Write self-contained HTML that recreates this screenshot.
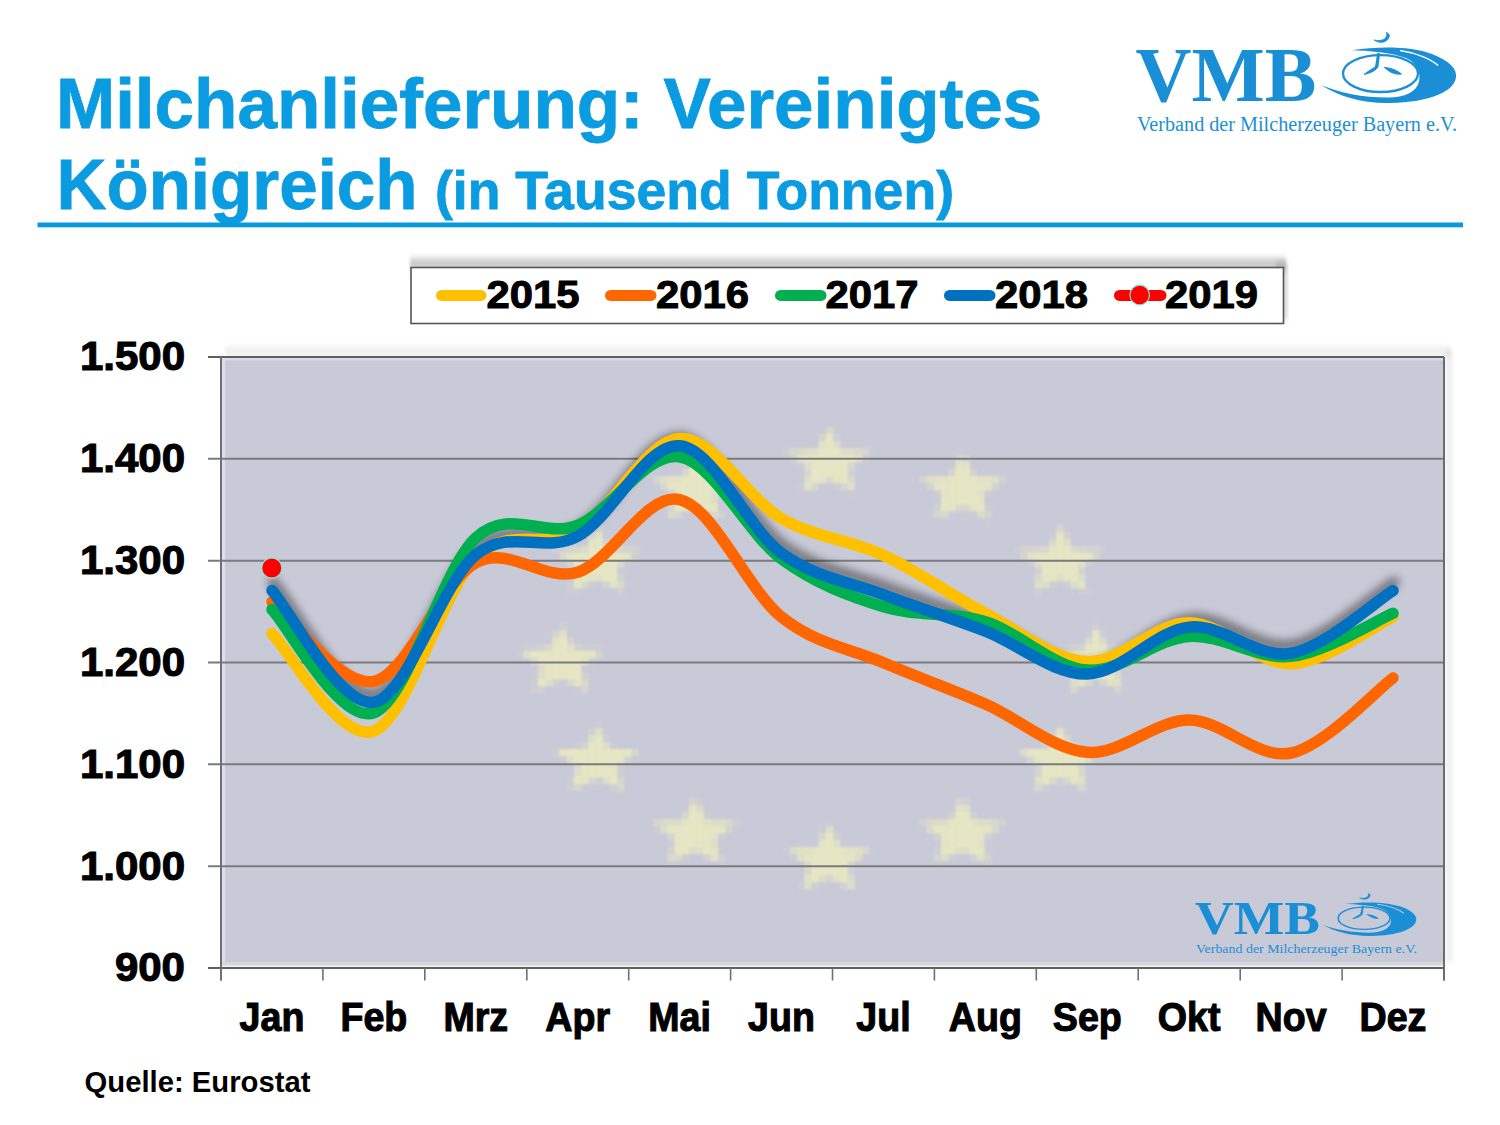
<!DOCTYPE html>
<html><head><meta charset="utf-8"><style>
html,body{margin:0;padding:0;background:#fff;}
body{width:1500px;height:1125px;overflow:hidden;position:relative;font-family:"Liberation Sans",sans-serif;}
svg{position:absolute;left:0;top:0;}
</style></head><body>
<svg width="1500" height="1125" viewBox="0 0 1500 1125">
<defs>
<filter id="sh" x="-5%" y="-30%" width="110%" height="160%"><feGaussianBlur stdDeviation="4"/><feOffset dx="1" dy="-8"/></filter>
<filter id="boxsh" x="-5%" y="-100%" width="110%" height="300%"><feGaussianBlur stdDeviation="1.5 3"/></filter>
<filter id="starblur"><feGaussianBlur stdDeviation="0.9"/></filter>
</defs>
<g font-family="'Liberation Sans'" font-weight="bold" fill="#0a9be0" stroke="#0a9be0" stroke-width="0.8">
<text x="56" y="128" font-size="71">Milchanlieferung: Vereinigtes</text>
<text x="56.5" y="209" font-size="71" textLength="361" lengthAdjust="spacingAndGlyphs">Königreich</text>
<text x="435" y="209" font-size="53" textLength="519" lengthAdjust="spacingAndGlyphs">(in Tausend Tonnen)</text>
</g>
<rect x="37.5" y="222.5" width="1425.5" height="4.8" fill="#0898de"/>
<g transform="translate(0,0) scale(1,1)">
<text x="1135.5" y="100.5" font-family="'Liberation Serif'" font-weight="bold" font-size="78" fill="#1b8fd6" textLength="181" lengthAdjust="spacingAndGlyphs">VMB</text>
<text x="1137" y="130.5" font-family="'Liberation Serif'" font-size="20.5" fill="#1b8fd6" textLength="320" lengthAdjust="spacingAndGlyphs">Verband der Milcherzeuger Bayern e.V.</text>
<path d="M1352,50.2 C1380,46 1412,46.5 1432,54 C1450,61 1457,69 1456,77 C1455,91 1430,102.5 1390,103 C1362,103.5 1338,96 1321,85 C1340,93 1362,97.5 1388,97.5 C1405,97.5 1416,92 1419,82 C1421,72 1417,63 1406,58 C1392,52.5 1368,50.5 1352,50.2 Z" fill="#1b8fd6"/>
<ellipse cx="1380.5" cy="73.6" rx="37.5" ry="18.4" fill="none" stroke="#1b8fd6" stroke-width="2.3"/>
<path d="M1400,50.5 C1418,53 1432,60 1438,65.5" fill="none" stroke="#fff" stroke-width="1.6"/>
<path d="M1379.5,53.5 C1379,58 1378.5,63 1378,66.5 C1376,70.5 1372,72.5 1364,74.5 C1368,71 1372,69.5 1375.5,66.5 C1376.5,62 1377,57 1377.5,53.5 Z" fill="#1b8fd6" stroke="#1b8fd6" stroke-width="1"/>
<path d="M1385,67.5 C1391,68 1397,70.5 1401,74 C1395,74.5 1389,71.5 1385,67.5 Z" fill="#1b8fd6" stroke="#1b8fd6" stroke-width="1.2"/>
<path d="M1374,40 C1380,44 1388,43 1389.5,35.5 C1389,34 1388,33 1386.5,32.5 C1388,38 1383,42 1374,40 Z" fill="#1b8fd6" stroke="#1b8fd6" stroke-width="0.8"/>
</g>
<rect x="410" y="258" width="876" height="14" fill="#000" opacity="0.2" filter="url(#boxsh)"/>
<rect x="1276" y="262" width="12" height="58" fill="#000" opacity="0.12" filter="url(#boxsh)"/>
<rect x="411" y="267.5" width="872.5" height="56" fill="#fff" stroke="#555" stroke-width="1.6"/>
<g stroke-width="11" stroke-linecap="round">
<line x1="441.5" y1="295.4" x2="481" y2="295.4" stroke="#ffc000"/>
<line x1="610.5" y1="295.4" x2="651" y2="295.4" stroke="#ff6600"/>
<line x1="780.5" y1="295.4" x2="821" y2="295.4" stroke="#00b050"/>
<line x1="949.5" y1="295.4" x2="990" y2="295.4" stroke="#0070c0"/>
<line x1="1119.5" y1="295.4" x2="1161" y2="295.4" stroke="#ff0000"/>
</g>
<circle cx="1139.7" cy="295" r="9.8" fill="#ff0000" stroke="#7fe0d0" stroke-width="1.2"/>
<g font-family="'Liberation Sans'" font-weight="bold" font-size="39.5" fill="#000" stroke="#000" stroke-width="1">
<text x="486.5" y="308.3" textLength="93" lengthAdjust="spacingAndGlyphs">2015</text>
<text x="656" y="308.3" textLength="93" lengthAdjust="spacingAndGlyphs">2016</text>
<text x="825.5" y="308.3" textLength="93" lengthAdjust="spacingAndGlyphs">2017</text>
<text x="995" y="308.3" textLength="93" lengthAdjust="spacingAndGlyphs">2018</text>
<text x="1165" y="308.3" textLength="93" lengthAdjust="spacingAndGlyphs">2019</text>
</g>
<rect x="225" y="347" width="1226" height="9" fill="#000" opacity="0.065" filter="url(#boxsh)"/>
<rect x="1445" y="350" width="8" height="612" fill="#000" opacity="0.05" filter="url(#boxsh)"/>
<rect x="221" y="357" width="1223" height="611" fill="#c9cad7"/>
<rect x="222" y="358" width="3" height="607" fill="#e0e0f0" opacity="0.9"/>
<rect x="222" y="962" width="1221" height="3.5" fill="#d8d8e2" opacity="0.8"/><rect x="222" y="965.5" width="1221" height="1.6" fill="#f4f4f6"/>
<rect x="222" y="358" width="1221" height="2.5" fill="#dedeee" opacity="0.8"/>
<g fill="#e6e6c4" filter="url(#starblur)"><rect x="825.8" y="427.0" width="7.5" height="7.3" fill-opacity="0.50"/><rect x="818.6" y="434.0" width="7.5" height="7.3" fill-opacity="0.33"/><rect x="825.8" y="434.0" width="7.5" height="7.3" fill-opacity="1.00"/><rect x="833.0" y="434.0" width="7.5" height="7.3" fill-opacity="0.17"/><rect x="818.6" y="441.0" width="7.5" height="7.3" fill-opacity="0.83"/><rect x="825.8" y="441.0" width="7.5" height="7.3" fill-opacity="1.00"/><rect x="833.0" y="441.0" width="7.5" height="7.3" fill-opacity="0.67"/><rect x="782.6" y="448.0" width="7.5" height="7.3" fill-opacity="0.11"/><rect x="789.8" y="448.0" width="7.5" height="7.3" fill-opacity="0.50"/><rect x="797.0" y="448.0" width="7.5" height="7.3" fill-opacity="0.58"/><rect x="804.2" y="448.0" width="7.5" height="7.3" fill-opacity="0.67"/><rect x="811.4" y="448.0" width="7.5" height="7.3" fill-opacity="0.72"/><rect x="818.6" y="448.0" width="7.5" height="7.3" fill-opacity="1.00"/><rect x="825.8" y="448.0" width="7.5" height="7.3" fill-opacity="1.00"/><rect x="833.0" y="448.0" width="7.5" height="7.3" fill-opacity="1.00"/><rect x="840.2" y="448.0" width="7.5" height="7.3" fill-opacity="0.67"/><rect x="847.4" y="448.0" width="7.5" height="7.3" fill-opacity="0.67"/><rect x="854.6" y="448.0" width="7.5" height="7.3" fill-opacity="0.53"/><rect x="861.8" y="448.0" width="7.5" height="7.3" fill-opacity="0.47"/><rect x="869.0" y="448.0" width="7.5" height="7.3" fill-opacity="0.03"/><rect x="789.8" y="455.0" width="7.5" height="7.3" fill-opacity="0.28"/><rect x="797.0" y="455.0" width="7.5" height="7.3" fill-opacity="0.92"/><rect x="804.2" y="455.0" width="7.5" height="7.3" fill-opacity="1.00"/><rect x="811.4" y="455.0" width="7.5" height="7.3" fill-opacity="1.00"/><rect x="818.6" y="455.0" width="7.5" height="7.3" fill-opacity="1.00"/><rect x="825.8" y="455.0" width="7.5" height="7.3" fill-opacity="1.00"/><rect x="833.0" y="455.0" width="7.5" height="7.3" fill-opacity="1.00"/><rect x="840.2" y="455.0" width="7.5" height="7.3" fill-opacity="1.00"/><rect x="847.4" y="455.0" width="7.5" height="7.3" fill-opacity="1.00"/><rect x="854.6" y="455.0" width="7.5" height="7.3" fill-opacity="0.81"/><rect x="861.8" y="455.0" width="7.5" height="7.3" fill-opacity="0.14"/><rect x="797.0" y="462.0" width="7.5" height="7.3" fill-opacity="0.08"/><rect x="804.2" y="462.0" width="7.5" height="7.3" fill-opacity="0.69"/><rect x="811.4" y="462.0" width="7.5" height="7.3" fill-opacity="1.00"/><rect x="818.6" y="462.0" width="7.5" height="7.3" fill-opacity="1.00"/><rect x="825.8" y="462.0" width="7.5" height="7.3" fill-opacity="1.00"/><rect x="833.0" y="462.0" width="7.5" height="7.3" fill-opacity="1.00"/><rect x="840.2" y="462.0" width="7.5" height="7.3" fill-opacity="1.00"/><rect x="847.4" y="462.0" width="7.5" height="7.3" fill-opacity="0.53"/><rect x="854.6" y="462.0" width="7.5" height="7.3" fill-opacity="0.03"/><rect x="804.2" y="469.0" width="7.5" height="7.3" fill-opacity="0.44"/><rect x="811.4" y="469.0" width="7.5" height="7.3" fill-opacity="1.00"/><rect x="818.6" y="469.0" width="7.5" height="7.3" fill-opacity="1.00"/><rect x="825.8" y="469.0" width="7.5" height="7.3" fill-opacity="1.00"/><rect x="833.0" y="469.0" width="7.5" height="7.3" fill-opacity="1.00"/><rect x="840.2" y="469.0" width="7.5" height="7.3" fill-opacity="1.00"/><rect x="847.4" y="469.0" width="7.5" height="7.3" fill-opacity="0.25"/><rect x="804.2" y="476.0" width="7.5" height="7.3" fill-opacity="0.75"/><rect x="811.4" y="476.0" width="7.5" height="7.3" fill-opacity="1.00"/><rect x="818.6" y="476.0" width="7.5" height="7.3" fill-opacity="0.89"/><rect x="825.8" y="476.0" width="7.5" height="7.3" fill-opacity="0.58"/><rect x="833.0" y="476.0" width="7.5" height="7.3" fill-opacity="0.94"/><rect x="840.2" y="476.0" width="7.5" height="7.3" fill-opacity="1.00"/><rect x="847.4" y="476.0" width="7.5" height="7.3" fill-opacity="0.53"/><rect x="797.0" y="483.0" width="7.5" height="7.3" fill-opacity="0.06"/><rect x="804.2" y="483.0" width="7.5" height="7.3" fill-opacity="0.86"/><rect x="811.4" y="483.0" width="7.5" height="7.3" fill-opacity="0.42"/><rect x="818.6" y="483.0" width="7.5" height="7.3" fill-opacity="0.03"/><rect x="833.0" y="483.0" width="7.5" height="7.3" fill-opacity="0.06"/><rect x="840.2" y="483.0" width="7.5" height="7.3" fill-opacity="0.50"/><rect x="847.4" y="483.0" width="7.5" height="7.3" fill-opacity="0.75"/><rect x="797.0" y="490.0" width="7.5" height="7.3" fill-opacity="0.03"/><rect x="804.2" y="490.0" width="7.5" height="7.3" fill-opacity="0.03"/><rect x="847.4" y="490.0" width="7.5" height="7.3" fill-opacity="0.06"/><rect x="955.4" y="448.0" width="7.5" height="7.3" fill-opacity="0.03"/><rect x="955.4" y="455.0" width="7.5" height="7.3" fill-opacity="0.42"/><rect x="962.6" y="455.0" width="7.5" height="7.3" fill-opacity="0.33"/><rect x="948.2" y="462.0" width="7.5" height="7.3" fill-opacity="0.03"/><rect x="955.4" y="462.0" width="7.5" height="7.3" fill-opacity="0.89"/><rect x="962.6" y="462.0" width="7.5" height="7.3" fill-opacity="0.83"/><rect x="948.2" y="469.0" width="7.5" height="7.3" fill-opacity="0.42"/><rect x="955.4" y="469.0" width="7.5" height="7.3" fill-opacity="1.00"/><rect x="962.6" y="469.0" width="7.5" height="7.3" fill-opacity="1.00"/><rect x="969.8" y="469.0" width="7.5" height="7.3" fill-opacity="0.33"/><rect x="919.4" y="476.0" width="7.5" height="7.3" fill-opacity="0.33"/><rect x="926.6" y="476.0" width="7.5" height="7.3" fill-opacity="0.72"/><rect x="933.8" y="476.0" width="7.5" height="7.3" fill-opacity="0.83"/><rect x="941.0" y="476.0" width="7.5" height="7.3" fill-opacity="0.83"/><rect x="948.2" y="476.0" width="7.5" height="7.3" fill-opacity="0.97"/><rect x="955.4" y="476.0" width="7.5" height="7.3" fill-opacity="1.00"/><rect x="962.6" y="476.0" width="7.5" height="7.3" fill-opacity="1.00"/><rect x="969.8" y="476.0" width="7.5" height="7.3" fill-opacity="0.94"/><rect x="977.0" y="476.0" width="7.5" height="7.3" fill-opacity="0.83"/><rect x="984.2" y="476.0" width="7.5" height="7.3" fill-opacity="0.83"/><rect x="991.4" y="476.0" width="7.5" height="7.3" fill-opacity="0.69"/><rect x="998.6" y="476.0" width="7.5" height="7.3" fill-opacity="0.28"/><rect x="926.6" y="483.0" width="7.5" height="7.3" fill-opacity="0.36"/><rect x="933.8" y="483.0" width="7.5" height="7.3" fill-opacity="0.94"/><rect x="941.0" y="483.0" width="7.5" height="7.3" fill-opacity="1.00"/><rect x="948.2" y="483.0" width="7.5" height="7.3" fill-opacity="1.00"/><rect x="955.4" y="483.0" width="7.5" height="7.3" fill-opacity="1.00"/><rect x="962.6" y="483.0" width="7.5" height="7.3" fill-opacity="1.00"/><rect x="969.8" y="483.0" width="7.5" height="7.3" fill-opacity="1.00"/><rect x="977.0" y="483.0" width="7.5" height="7.3" fill-opacity="1.00"/><rect x="984.2" y="483.0" width="7.5" height="7.3" fill-opacity="0.92"/><rect x="991.4" y="483.0" width="7.5" height="7.3" fill-opacity="0.33"/><rect x="933.8" y="490.0" width="7.5" height="7.3" fill-opacity="0.14"/><rect x="941.0" y="490.0" width="7.5" height="7.3" fill-opacity="0.89"/><rect x="948.2" y="490.0" width="7.5" height="7.3" fill-opacity="1.00"/><rect x="955.4" y="490.0" width="7.5" height="7.3" fill-opacity="1.00"/><rect x="962.6" y="490.0" width="7.5" height="7.3" fill-opacity="1.00"/><rect x="969.8" y="490.0" width="7.5" height="7.3" fill-opacity="1.00"/><rect x="977.0" y="490.0" width="7.5" height="7.3" fill-opacity="0.83"/><rect x="984.2" y="490.0" width="7.5" height="7.3" fill-opacity="0.11"/><rect x="941.0" y="497.0" width="7.5" height="7.3" fill-opacity="0.92"/><rect x="948.2" y="497.0" width="7.5" height="7.3" fill-opacity="1.00"/><rect x="955.4" y="497.0" width="7.5" height="7.3" fill-opacity="1.00"/><rect x="962.6" y="497.0" width="7.5" height="7.3" fill-opacity="1.00"/><rect x="969.8" y="497.0" width="7.5" height="7.3" fill-opacity="1.00"/><rect x="977.0" y="497.0" width="7.5" height="7.3" fill-opacity="0.86"/><rect x="933.8" y="504.0" width="7.5" height="7.3" fill-opacity="0.22"/><rect x="941.0" y="504.0" width="7.5" height="7.3" fill-opacity="1.00"/><rect x="948.2" y="504.0" width="7.5" height="7.3" fill-opacity="0.94"/><rect x="955.4" y="504.0" width="7.5" height="7.3" fill-opacity="0.50"/><rect x="962.6" y="504.0" width="7.5" height="7.3" fill-opacity="0.50"/><rect x="969.8" y="504.0" width="7.5" height="7.3" fill-opacity="0.94"/><rect x="977.0" y="504.0" width="7.5" height="7.3" fill-opacity="1.00"/><rect x="984.2" y="504.0" width="7.5" height="7.3" fill-opacity="0.14"/><rect x="933.8" y="511.0" width="7.5" height="7.3" fill-opacity="0.44"/><rect x="941.0" y="511.0" width="7.5" height="7.3" fill-opacity="0.50"/><rect x="948.2" y="511.0" width="7.5" height="7.3" fill-opacity="0.06"/><rect x="969.8" y="511.0" width="7.5" height="7.3" fill-opacity="0.06"/><rect x="977.0" y="511.0" width="7.5" height="7.3" fill-opacity="0.58"/><rect x="984.2" y="511.0" width="7.5" height="7.3" fill-opacity="0.39"/><rect x="984.2" y="518.0" width="7.5" height="7.3" fill-opacity="0.03"/><rect x="1056.2" y="525.0" width="7.5" height="7.3" fill-opacity="0.36"/><rect x="1049.0" y="532.0" width="7.5" height="7.3" fill-opacity="0.11"/><rect x="1056.2" y="532.0" width="7.5" height="7.3" fill-opacity="0.97"/><rect x="1063.4" y="532.0" width="7.5" height="7.3" fill-opacity="0.25"/><rect x="1049.0" y="539.0" width="7.5" height="7.3" fill-opacity="0.58"/><rect x="1056.2" y="539.0" width="7.5" height="7.3" fill-opacity="1.00"/><rect x="1063.4" y="539.0" width="7.5" height="7.3" fill-opacity="0.75"/><rect x="1013.0" y="546.0" width="7.5" height="7.3" fill-opacity="0.08"/><rect x="1020.2" y="546.0" width="7.5" height="7.3" fill-opacity="0.33"/><rect x="1027.4" y="546.0" width="7.5" height="7.3" fill-opacity="0.33"/><rect x="1034.6" y="546.0" width="7.5" height="7.3" fill-opacity="0.47"/><rect x="1041.8" y="546.0" width="7.5" height="7.3" fill-opacity="0.50"/><rect x="1049.0" y="546.0" width="7.5" height="7.3" fill-opacity="0.97"/><rect x="1056.2" y="546.0" width="7.5" height="7.3" fill-opacity="1.00"/><rect x="1063.4" y="546.0" width="7.5" height="7.3" fill-opacity="1.00"/><rect x="1070.6" y="546.0" width="7.5" height="7.3" fill-opacity="0.56"/><rect x="1077.8" y="546.0" width="7.5" height="7.3" fill-opacity="0.50"/><rect x="1085.0" y="546.0" width="7.5" height="7.3" fill-opacity="0.33"/><rect x="1092.2" y="546.0" width="7.5" height="7.3" fill-opacity="0.33"/><rect x="1099.4" y="546.0" width="7.5" height="7.3" fill-opacity="0.11"/><rect x="1020.2" y="553.0" width="7.5" height="7.3" fill-opacity="0.33"/><rect x="1027.4" y="553.0" width="7.5" height="7.3" fill-opacity="0.94"/><rect x="1034.6" y="553.0" width="7.5" height="7.3" fill-opacity="1.00"/><rect x="1041.8" y="553.0" width="7.5" height="7.3" fill-opacity="1.00"/><rect x="1049.0" y="553.0" width="7.5" height="7.3" fill-opacity="1.00"/><rect x="1056.2" y="553.0" width="7.5" height="7.3" fill-opacity="1.00"/><rect x="1063.4" y="553.0" width="7.5" height="7.3" fill-opacity="1.00"/><rect x="1070.6" y="553.0" width="7.5" height="7.3" fill-opacity="1.00"/><rect x="1077.8" y="553.0" width="7.5" height="7.3" fill-opacity="1.00"/><rect x="1085.0" y="553.0" width="7.5" height="7.3" fill-opacity="0.97"/><rect x="1092.2" y="553.0" width="7.5" height="7.3" fill-opacity="0.44"/><rect x="1027.4" y="560.0" width="7.5" height="7.3" fill-opacity="0.11"/><rect x="1034.6" y="560.0" width="7.5" height="7.3" fill-opacity="0.78"/><rect x="1041.8" y="560.0" width="7.5" height="7.3" fill-opacity="1.00"/><rect x="1049.0" y="560.0" width="7.5" height="7.3" fill-opacity="1.00"/><rect x="1056.2" y="560.0" width="7.5" height="7.3" fill-opacity="1.00"/><rect x="1063.4" y="560.0" width="7.5" height="7.3" fill-opacity="1.00"/><rect x="1070.6" y="560.0" width="7.5" height="7.3" fill-opacity="1.00"/><rect x="1077.8" y="560.0" width="7.5" height="7.3" fill-opacity="0.81"/><rect x="1085.0" y="560.0" width="7.5" height="7.3" fill-opacity="0.19"/><rect x="1034.6" y="567.0" width="7.5" height="7.3" fill-opacity="0.22"/><rect x="1041.8" y="567.0" width="7.5" height="7.3" fill-opacity="1.00"/><rect x="1049.0" y="567.0" width="7.5" height="7.3" fill-opacity="1.00"/><rect x="1056.2" y="567.0" width="7.5" height="7.3" fill-opacity="1.00"/><rect x="1063.4" y="567.0" width="7.5" height="7.3" fill-opacity="1.00"/><rect x="1070.6" y="567.0" width="7.5" height="7.3" fill-opacity="1.00"/><rect x="1077.8" y="567.0" width="7.5" height="7.3" fill-opacity="0.36"/><rect x="1034.6" y="574.0" width="7.5" height="7.3" fill-opacity="0.50"/><rect x="1041.8" y="574.0" width="7.5" height="7.3" fill-opacity="1.00"/><rect x="1049.0" y="574.0" width="7.5" height="7.3" fill-opacity="1.00"/><rect x="1056.2" y="574.0" width="7.5" height="7.3" fill-opacity="0.75"/><rect x="1063.4" y="574.0" width="7.5" height="7.3" fill-opacity="0.97"/><rect x="1070.6" y="574.0" width="7.5" height="7.3" fill-opacity="1.00"/><rect x="1077.8" y="574.0" width="7.5" height="7.3" fill-opacity="0.64"/><rect x="1034.6" y="581.0" width="7.5" height="7.3" fill-opacity="0.78"/><rect x="1041.8" y="581.0" width="7.5" height="7.3" fill-opacity="0.67"/><rect x="1049.0" y="581.0" width="7.5" height="7.3" fill-opacity="0.17"/><rect x="1063.4" y="581.0" width="7.5" height="7.3" fill-opacity="0.17"/><rect x="1070.6" y="581.0" width="7.5" height="7.3" fill-opacity="0.67"/><rect x="1077.8" y="581.0" width="7.5" height="7.3" fill-opacity="0.92"/><rect x="1034.6" y="588.0" width="7.5" height="7.3" fill-opacity="0.19"/><rect x="1077.8" y="588.0" width="7.5" height="7.3" fill-opacity="0.17"/><rect x="1085.0" y="588.0" width="7.5" height="7.3" fill-opacity="0.08"/><rect x="1092.2" y="623.0" width="7.5" height="7.3" fill-opacity="0.17"/><rect x="1085.0" y="630.0" width="7.5" height="7.3" fill-opacity="0.06"/><rect x="1092.2" y="630.0" width="7.5" height="7.3" fill-opacity="0.92"/><rect x="1099.4" y="630.0" width="7.5" height="7.3" fill-opacity="0.11"/><rect x="1085.0" y="637.0" width="7.5" height="7.3" fill-opacity="0.50"/><rect x="1092.2" y="637.0" width="7.5" height="7.3" fill-opacity="1.00"/><rect x="1099.4" y="637.0" width="7.5" height="7.3" fill-opacity="0.58"/><rect x="1056.2" y="644.0" width="7.5" height="7.3" fill-opacity="0.14"/><rect x="1063.4" y="644.0" width="7.5" height="7.3" fill-opacity="0.17"/><rect x="1070.6" y="644.0" width="7.5" height="7.3" fill-opacity="0.22"/><rect x="1077.8" y="644.0" width="7.5" height="7.3" fill-opacity="0.33"/><rect x="1085.0" y="644.0" width="7.5" height="7.3" fill-opacity="0.94"/><rect x="1092.2" y="644.0" width="7.5" height="7.3" fill-opacity="1.00"/><rect x="1099.4" y="644.0" width="7.5" height="7.3" fill-opacity="0.97"/><rect x="1106.6" y="644.0" width="7.5" height="7.3" fill-opacity="0.36"/><rect x="1113.8" y="644.0" width="7.5" height="7.3" fill-opacity="0.25"/><rect x="1121.0" y="644.0" width="7.5" height="7.3" fill-opacity="0.17"/><rect x="1128.2" y="644.0" width="7.5" height="7.3" fill-opacity="0.17"/><rect x="1049.0" y="651.0" width="7.5" height="7.3" fill-opacity="0.03"/><rect x="1056.2" y="651.0" width="7.5" height="7.3" fill-opacity="0.56"/><rect x="1063.4" y="651.0" width="7.5" height="7.3" fill-opacity="1.00"/><rect x="1070.6" y="651.0" width="7.5" height="7.3" fill-opacity="1.00"/><rect x="1077.8" y="651.0" width="7.5" height="7.3" fill-opacity="1.00"/><rect x="1085.0" y="651.0" width="7.5" height="7.3" fill-opacity="1.00"/><rect x="1092.2" y="651.0" width="7.5" height="7.3" fill-opacity="1.00"/><rect x="1099.4" y="651.0" width="7.5" height="7.3" fill-opacity="1.00"/><rect x="1106.6" y="651.0" width="7.5" height="7.3" fill-opacity="1.00"/><rect x="1113.8" y="651.0" width="7.5" height="7.3" fill-opacity="1.00"/><rect x="1121.0" y="651.0" width="7.5" height="7.3" fill-opacity="1.00"/><rect x="1128.2" y="651.0" width="7.5" height="7.3" fill-opacity="0.61"/><rect x="1135.4" y="651.0" width="7.5" height="7.3" fill-opacity="0.03"/><rect x="1063.4" y="658.0" width="7.5" height="7.3" fill-opacity="0.28"/><rect x="1070.6" y="658.0" width="7.5" height="7.3" fill-opacity="0.89"/><rect x="1077.8" y="658.0" width="7.5" height="7.3" fill-opacity="1.00"/><rect x="1085.0" y="658.0" width="7.5" height="7.3" fill-opacity="1.00"/><rect x="1092.2" y="658.0" width="7.5" height="7.3" fill-opacity="1.00"/><rect x="1099.4" y="658.0" width="7.5" height="7.3" fill-opacity="1.00"/><rect x="1106.6" y="658.0" width="7.5" height="7.3" fill-opacity="1.00"/><rect x="1113.8" y="658.0" width="7.5" height="7.3" fill-opacity="0.92"/><rect x="1121.0" y="658.0" width="7.5" height="7.3" fill-opacity="0.33"/><rect x="1070.6" y="665.0" width="7.5" height="7.3" fill-opacity="0.25"/><rect x="1077.8" y="665.0" width="7.5" height="7.3" fill-opacity="1.00"/><rect x="1085.0" y="665.0" width="7.5" height="7.3" fill-opacity="1.00"/><rect x="1092.2" y="665.0" width="7.5" height="7.3" fill-opacity="1.00"/><rect x="1099.4" y="665.0" width="7.5" height="7.3" fill-opacity="1.00"/><rect x="1106.6" y="665.0" width="7.5" height="7.3" fill-opacity="1.00"/><rect x="1113.8" y="665.0" width="7.5" height="7.3" fill-opacity="0.31"/><rect x="1070.6" y="672.0" width="7.5" height="7.3" fill-opacity="0.47"/><rect x="1077.8" y="672.0" width="7.5" height="7.3" fill-opacity="1.00"/><rect x="1085.0" y="672.0" width="7.5" height="7.3" fill-opacity="1.00"/><rect x="1092.2" y="672.0" width="7.5" height="7.3" fill-opacity="0.94"/><rect x="1099.4" y="672.0" width="7.5" height="7.3" fill-opacity="1.00"/><rect x="1106.6" y="672.0" width="7.5" height="7.3" fill-opacity="1.00"/><rect x="1113.8" y="672.0" width="7.5" height="7.3" fill-opacity="0.56"/><rect x="1070.6" y="679.0" width="7.5" height="7.3" fill-opacity="0.75"/><rect x="1077.8" y="679.0" width="7.5" height="7.3" fill-opacity="0.89"/><rect x="1085.0" y="679.0" width="7.5" height="7.3" fill-opacity="0.42"/><rect x="1099.4" y="679.0" width="7.5" height="7.3" fill-opacity="0.33"/><rect x="1106.6" y="679.0" width="7.5" height="7.3" fill-opacity="0.83"/><rect x="1113.8" y="679.0" width="7.5" height="7.3" fill-opacity="0.83"/><rect x="1070.6" y="686.0" width="7.5" height="7.3" fill-opacity="0.42"/><rect x="1077.8" y="686.0" width="7.5" height="7.3" fill-opacity="0.03"/><rect x="1113.8" y="686.0" width="7.5" height="7.3" fill-opacity="0.33"/><rect x="1121.0" y="686.0" width="7.5" height="7.3" fill-opacity="0.06"/><rect x="1056.2" y="721.0" width="7.5" height="7.3" fill-opacity="0.08"/><rect x="1049.0" y="728.0" width="7.5" height="7.3" fill-opacity="0.03"/><rect x="1056.2" y="728.0" width="7.5" height="7.3" fill-opacity="0.83"/><rect x="1063.4" y="728.0" width="7.5" height="7.3" fill-opacity="0.06"/><rect x="1049.0" y="735.0" width="7.5" height="7.3" fill-opacity="0.42"/><rect x="1056.2" y="735.0" width="7.5" height="7.3" fill-opacity="1.00"/><rect x="1063.4" y="735.0" width="7.5" height="7.3" fill-opacity="0.50"/><rect x="1041.8" y="742.0" width="7.5" height="7.3" fill-opacity="0.17"/><rect x="1049.0" y="742.0" width="7.5" height="7.3" fill-opacity="0.89"/><rect x="1056.2" y="742.0" width="7.5" height="7.3" fill-opacity="1.00"/><rect x="1063.4" y="742.0" width="7.5" height="7.3" fill-opacity="0.94"/><rect x="1070.6" y="742.0" width="7.5" height="7.3" fill-opacity="0.19"/><rect x="1013.0" y="749.0" width="7.5" height="7.3" fill-opacity="0.03"/><rect x="1020.2" y="749.0" width="7.5" height="7.3" fill-opacity="0.64"/><rect x="1027.4" y="749.0" width="7.5" height="7.3" fill-opacity="1.00"/><rect x="1034.6" y="749.0" width="7.5" height="7.3" fill-opacity="1.00"/><rect x="1041.8" y="749.0" width="7.5" height="7.3" fill-opacity="1.00"/><rect x="1049.0" y="749.0" width="7.5" height="7.3" fill-opacity="1.00"/><rect x="1056.2" y="749.0" width="7.5" height="7.3" fill-opacity="1.00"/><rect x="1063.4" y="749.0" width="7.5" height="7.3" fill-opacity="1.00"/><rect x="1070.6" y="749.0" width="7.5" height="7.3" fill-opacity="1.00"/><rect x="1077.8" y="749.0" width="7.5" height="7.3" fill-opacity="1.00"/><rect x="1085.0" y="749.0" width="7.5" height="7.3" fill-opacity="1.00"/><rect x="1092.2" y="749.0" width="7.5" height="7.3" fill-opacity="0.72"/><rect x="1099.4" y="749.0" width="7.5" height="7.3" fill-opacity="0.06"/><rect x="1027.4" y="756.0" width="7.5" height="7.3" fill-opacity="0.44"/><rect x="1034.6" y="756.0" width="7.5" height="7.3" fill-opacity="0.97"/><rect x="1041.8" y="756.0" width="7.5" height="7.3" fill-opacity="1.00"/><rect x="1049.0" y="756.0" width="7.5" height="7.3" fill-opacity="1.00"/><rect x="1056.2" y="756.0" width="7.5" height="7.3" fill-opacity="1.00"/><rect x="1063.4" y="756.0" width="7.5" height="7.3" fill-opacity="1.00"/><rect x="1070.6" y="756.0" width="7.5" height="7.3" fill-opacity="1.00"/><rect x="1077.8" y="756.0" width="7.5" height="7.3" fill-opacity="1.00"/><rect x="1085.0" y="756.0" width="7.5" height="7.3" fill-opacity="0.53"/><rect x="1092.2" y="756.0" width="7.5" height="7.3" fill-opacity="0.03"/><rect x="1034.6" y="763.0" width="7.5" height="7.3" fill-opacity="0.28"/><rect x="1041.8" y="763.0" width="7.5" height="7.3" fill-opacity="1.00"/><rect x="1049.0" y="763.0" width="7.5" height="7.3" fill-opacity="1.00"/><rect x="1056.2" y="763.0" width="7.5" height="7.3" fill-opacity="1.00"/><rect x="1063.4" y="763.0" width="7.5" height="7.3" fill-opacity="1.00"/><rect x="1070.6" y="763.0" width="7.5" height="7.3" fill-opacity="1.00"/><rect x="1077.8" y="763.0" width="7.5" height="7.3" fill-opacity="0.42"/><rect x="1034.6" y="770.0" width="7.5" height="7.3" fill-opacity="0.39"/><rect x="1041.8" y="770.0" width="7.5" height="7.3" fill-opacity="1.00"/><rect x="1049.0" y="770.0" width="7.5" height="7.3" fill-opacity="1.00"/><rect x="1056.2" y="770.0" width="7.5" height="7.3" fill-opacity="1.00"/><rect x="1063.4" y="770.0" width="7.5" height="7.3" fill-opacity="1.00"/><rect x="1070.6" y="770.0" width="7.5" height="7.3" fill-opacity="1.00"/><rect x="1077.8" y="770.0" width="7.5" height="7.3" fill-opacity="0.53"/><rect x="1034.6" y="777.0" width="7.5" height="7.3" fill-opacity="0.69"/><rect x="1041.8" y="777.0" width="7.5" height="7.3" fill-opacity="0.97"/><rect x="1049.0" y="777.0" width="7.5" height="7.3" fill-opacity="0.58"/><rect x="1056.2" y="777.0" width="7.5" height="7.3" fill-opacity="0.17"/><rect x="1063.4" y="777.0" width="7.5" height="7.3" fill-opacity="0.50"/><rect x="1070.6" y="777.0" width="7.5" height="7.3" fill-opacity="0.94"/><rect x="1077.8" y="777.0" width="7.5" height="7.3" fill-opacity="0.81"/><rect x="1034.6" y="784.0" width="7.5" height="7.3" fill-opacity="0.53"/><rect x="1041.8" y="784.0" width="7.5" height="7.3" fill-opacity="0.11"/><rect x="1070.6" y="784.0" width="7.5" height="7.3" fill-opacity="0.06"/><rect x="1077.8" y="784.0" width="7.5" height="7.3" fill-opacity="0.50"/><rect x="1085.0" y="784.0" width="7.5" height="7.3" fill-opacity="0.06"/><rect x="955.4" y="798.0" width="7.5" height="7.3" fill-opacity="0.33"/><rect x="962.6" y="798.0" width="7.5" height="7.3" fill-opacity="0.25"/><rect x="955.4" y="805.0" width="7.5" height="7.3" fill-opacity="0.83"/><rect x="962.6" y="805.0" width="7.5" height="7.3" fill-opacity="0.75"/><rect x="948.2" y="812.0" width="7.5" height="7.3" fill-opacity="0.33"/><rect x="955.4" y="812.0" width="7.5" height="7.3" fill-opacity="1.00"/><rect x="962.6" y="812.0" width="7.5" height="7.3" fill-opacity="1.00"/><rect x="969.8" y="812.0" width="7.5" height="7.3" fill-opacity="0.25"/><rect x="919.4" y="819.0" width="7.5" height="7.3" fill-opacity="0.31"/><rect x="926.6" y="819.0" width="7.5" height="7.3" fill-opacity="0.53"/><rect x="933.8" y="819.0" width="7.5" height="7.3" fill-opacity="0.67"/><rect x="941.0" y="819.0" width="7.5" height="7.3" fill-opacity="0.67"/><rect x="948.2" y="819.0" width="7.5" height="7.3" fill-opacity="0.89"/><rect x="955.4" y="819.0" width="7.5" height="7.3" fill-opacity="1.00"/><rect x="962.6" y="819.0" width="7.5" height="7.3" fill-opacity="1.00"/><rect x="969.8" y="819.0" width="7.5" height="7.3" fill-opacity="0.86"/><rect x="977.0" y="819.0" width="7.5" height="7.3" fill-opacity="0.67"/><rect x="984.2" y="819.0" width="7.5" height="7.3" fill-opacity="0.67"/><rect x="991.4" y="819.0" width="7.5" height="7.3" fill-opacity="0.50"/><rect x="998.6" y="819.0" width="7.5" height="7.3" fill-opacity="0.28"/><rect x="919.4" y="826.0" width="7.5" height="7.3" fill-opacity="0.03"/><rect x="926.6" y="826.0" width="7.5" height="7.3" fill-opacity="0.56"/><rect x="933.8" y="826.0" width="7.5" height="7.3" fill-opacity="1.00"/><rect x="941.0" y="826.0" width="7.5" height="7.3" fill-opacity="1.00"/><rect x="948.2" y="826.0" width="7.5" height="7.3" fill-opacity="1.00"/><rect x="955.4" y="826.0" width="7.5" height="7.3" fill-opacity="1.00"/><rect x="962.6" y="826.0" width="7.5" height="7.3" fill-opacity="1.00"/><rect x="969.8" y="826.0" width="7.5" height="7.3" fill-opacity="1.00"/><rect x="977.0" y="826.0" width="7.5" height="7.3" fill-opacity="1.00"/><rect x="984.2" y="826.0" width="7.5" height="7.3" fill-opacity="1.00"/><rect x="991.4" y="826.0" width="7.5" height="7.3" fill-opacity="0.50"/><rect x="998.6" y="826.0" width="7.5" height="7.3" fill-opacity="0.03"/><rect x="933.8" y="833.0" width="7.5" height="7.3" fill-opacity="0.28"/><rect x="941.0" y="833.0" width="7.5" height="7.3" fill-opacity="0.92"/><rect x="948.2" y="833.0" width="7.5" height="7.3" fill-opacity="1.00"/><rect x="955.4" y="833.0" width="7.5" height="7.3" fill-opacity="1.00"/><rect x="962.6" y="833.0" width="7.5" height="7.3" fill-opacity="1.00"/><rect x="969.8" y="833.0" width="7.5" height="7.3" fill-opacity="1.00"/><rect x="977.0" y="833.0" width="7.5" height="7.3" fill-opacity="0.89"/><rect x="984.2" y="833.0" width="7.5" height="7.3" fill-opacity="0.22"/><rect x="941.0" y="840.0" width="7.5" height="7.3" fill-opacity="0.89"/><rect x="948.2" y="840.0" width="7.5" height="7.3" fill-opacity="1.00"/><rect x="955.4" y="840.0" width="7.5" height="7.3" fill-opacity="1.00"/><rect x="962.6" y="840.0" width="7.5" height="7.3" fill-opacity="1.00"/><rect x="969.8" y="840.0" width="7.5" height="7.3" fill-opacity="1.00"/><rect x="977.0" y="840.0" width="7.5" height="7.3" fill-opacity="0.81"/><rect x="933.8" y="847.0" width="7.5" height="7.3" fill-opacity="0.17"/><rect x="941.0" y="847.0" width="7.5" height="7.3" fill-opacity="1.00"/><rect x="948.2" y="847.0" width="7.5" height="7.3" fill-opacity="1.00"/><rect x="955.4" y="847.0" width="7.5" height="7.3" fill-opacity="0.67"/><rect x="962.6" y="847.0" width="7.5" height="7.3" fill-opacity="0.72"/><rect x="969.8" y="847.0" width="7.5" height="7.3" fill-opacity="1.00"/><rect x="977.0" y="847.0" width="7.5" height="7.3" fill-opacity="1.00"/><rect x="984.2" y="847.0" width="7.5" height="7.3" fill-opacity="0.08"/><rect x="933.8" y="854.0" width="7.5" height="7.3" fill-opacity="0.44"/><rect x="941.0" y="854.0" width="7.5" height="7.3" fill-opacity="0.67"/><rect x="948.2" y="854.0" width="7.5" height="7.3" fill-opacity="0.17"/><rect x="969.8" y="854.0" width="7.5" height="7.3" fill-opacity="0.25"/><rect x="977.0" y="854.0" width="7.5" height="7.3" fill-opacity="0.75"/><rect x="984.2" y="854.0" width="7.5" height="7.3" fill-opacity="0.39"/><rect x="933.8" y="861.0" width="7.5" height="7.3" fill-opacity="0.06"/><rect x="984.2" y="861.0" width="7.5" height="7.3" fill-opacity="0.08"/><rect x="825.8" y="819.0" width="7.5" height="7.3" fill-opacity="0.03"/><rect x="818.6" y="826.0" width="7.5" height="7.3" fill-opacity="0.06"/><rect x="825.8" y="826.0" width="7.5" height="7.3" fill-opacity="0.69"/><rect x="818.6" y="833.0" width="7.5" height="7.3" fill-opacity="0.50"/><rect x="825.8" y="833.0" width="7.5" height="7.3" fill-opacity="1.00"/><rect x="833.0" y="833.0" width="7.5" height="7.3" fill-opacity="0.25"/><rect x="811.4" y="840.0" width="7.5" height="7.3" fill-opacity="0.06"/><rect x="818.6" y="840.0" width="7.5" height="7.3" fill-opacity="0.94"/><rect x="825.8" y="840.0" width="7.5" height="7.3" fill-opacity="1.00"/><rect x="833.0" y="840.0" width="7.5" height="7.3" fill-opacity="0.75"/><rect x="782.6" y="847.0" width="7.5" height="7.3" fill-opacity="0.08"/><rect x="789.8" y="847.0" width="7.5" height="7.3" fill-opacity="0.64"/><rect x="797.0" y="847.0" width="7.5" height="7.3" fill-opacity="0.83"/><rect x="804.2" y="847.0" width="7.5" height="7.3" fill-opacity="0.83"/><rect x="811.4" y="847.0" width="7.5" height="7.3" fill-opacity="0.94"/><rect x="818.6" y="847.0" width="7.5" height="7.3" fill-opacity="1.00"/><rect x="825.8" y="847.0" width="7.5" height="7.3" fill-opacity="1.00"/><rect x="833.0" y="847.0" width="7.5" height="7.3" fill-opacity="1.00"/><rect x="840.2" y="847.0" width="7.5" height="7.3" fill-opacity="0.92"/><rect x="847.4" y="847.0" width="7.5" height="7.3" fill-opacity="0.83"/><rect x="854.6" y="847.0" width="7.5" height="7.3" fill-opacity="0.83"/><rect x="861.8" y="847.0" width="7.5" height="7.3" fill-opacity="0.53"/><rect x="869.0" y="847.0" width="7.5" height="7.3" fill-opacity="0.03"/><rect x="789.8" y="854.0" width="7.5" height="7.3" fill-opacity="0.11"/><rect x="797.0" y="854.0" width="7.5" height="7.3" fill-opacity="0.78"/><rect x="804.2" y="854.0" width="7.5" height="7.3" fill-opacity="1.00"/><rect x="811.4" y="854.0" width="7.5" height="7.3" fill-opacity="1.00"/><rect x="818.6" y="854.0" width="7.5" height="7.3" fill-opacity="1.00"/><rect x="825.8" y="854.0" width="7.5" height="7.3" fill-opacity="1.00"/><rect x="833.0" y="854.0" width="7.5" height="7.3" fill-opacity="1.00"/><rect x="840.2" y="854.0" width="7.5" height="7.3" fill-opacity="1.00"/><rect x="847.4" y="854.0" width="7.5" height="7.3" fill-opacity="1.00"/><rect x="854.6" y="854.0" width="7.5" height="7.3" fill-opacity="0.61"/><rect x="861.8" y="854.0" width="7.5" height="7.3" fill-opacity="0.03"/><rect x="804.2" y="861.0" width="7.5" height="7.3" fill-opacity="0.58"/><rect x="811.4" y="861.0" width="7.5" height="7.3" fill-opacity="1.00"/><rect x="818.6" y="861.0" width="7.5" height="7.3" fill-opacity="1.00"/><rect x="825.8" y="861.0" width="7.5" height="7.3" fill-opacity="1.00"/><rect x="833.0" y="861.0" width="7.5" height="7.3" fill-opacity="1.00"/><rect x="840.2" y="861.0" width="7.5" height="7.3" fill-opacity="1.00"/><rect x="847.4" y="861.0" width="7.5" height="7.3" fill-opacity="0.36"/><rect x="804.2" y="868.0" width="7.5" height="7.3" fill-opacity="0.50"/><rect x="811.4" y="868.0" width="7.5" height="7.3" fill-opacity="1.00"/><rect x="818.6" y="868.0" width="7.5" height="7.3" fill-opacity="1.00"/><rect x="825.8" y="868.0" width="7.5" height="7.3" fill-opacity="1.00"/><rect x="833.0" y="868.0" width="7.5" height="7.3" fill-opacity="1.00"/><rect x="840.2" y="868.0" width="7.5" height="7.3" fill-opacity="1.00"/><rect x="847.4" y="868.0" width="7.5" height="7.3" fill-opacity="0.28"/><rect x="804.2" y="875.0" width="7.5" height="7.3" fill-opacity="0.81"/><rect x="811.4" y="875.0" width="7.5" height="7.3" fill-opacity="1.00"/><rect x="818.6" y="875.0" width="7.5" height="7.3" fill-opacity="0.67"/><rect x="825.8" y="875.0" width="7.5" height="7.3" fill-opacity="0.39"/><rect x="833.0" y="875.0" width="7.5" height="7.3" fill-opacity="0.83"/><rect x="840.2" y="875.0" width="7.5" height="7.3" fill-opacity="1.00"/><rect x="847.4" y="875.0" width="7.5" height="7.3" fill-opacity="0.58"/><rect x="797.0" y="882.0" width="7.5" height="7.3" fill-opacity="0.08"/><rect x="804.2" y="882.0" width="7.5" height="7.3" fill-opacity="0.69"/><rect x="811.4" y="882.0" width="7.5" height="7.3" fill-opacity="0.17"/><rect x="840.2" y="882.0" width="7.5" height="7.3" fill-opacity="0.33"/><rect x="847.4" y="882.0" width="7.5" height="7.3" fill-opacity="0.69"/><rect x="797.0" y="889.0" width="7.5" height="7.3" fill-opacity="0.03"/><rect x="689.0" y="798.0" width="7.5" height="7.3" fill-opacity="0.39"/><rect x="696.2" y="798.0" width="7.5" height="7.3" fill-opacity="0.11"/><rect x="681.8" y="805.0" width="7.5" height="7.3" fill-opacity="0.03"/><rect x="689.0" y="805.0" width="7.5" height="7.3" fill-opacity="0.89"/><rect x="696.2" y="805.0" width="7.5" height="7.3" fill-opacity="0.58"/><rect x="681.8" y="812.0" width="7.5" height="7.3" fill-opacity="0.42"/><rect x="689.0" y="812.0" width="7.5" height="7.3" fill-opacity="1.00"/><rect x="696.2" y="812.0" width="7.5" height="7.3" fill-opacity="0.97"/><rect x="703.4" y="812.0" width="7.5" height="7.3" fill-opacity="0.11"/><rect x="653.0" y="819.0" width="7.5" height="7.3" fill-opacity="0.39"/><rect x="660.2" y="819.0" width="7.5" height="7.3" fill-opacity="0.56"/><rect x="667.4" y="819.0" width="7.5" height="7.3" fill-opacity="0.67"/><rect x="674.6" y="819.0" width="7.5" height="7.3" fill-opacity="0.67"/><rect x="681.8" y="819.0" width="7.5" height="7.3" fill-opacity="0.92"/><rect x="689.0" y="819.0" width="7.5" height="7.3" fill-opacity="1.00"/><rect x="696.2" y="819.0" width="7.5" height="7.3" fill-opacity="1.00"/><rect x="703.4" y="819.0" width="7.5" height="7.3" fill-opacity="0.81"/><rect x="710.6" y="819.0" width="7.5" height="7.3" fill-opacity="0.67"/><rect x="717.8" y="819.0" width="7.5" height="7.3" fill-opacity="0.67"/><rect x="725.0" y="819.0" width="7.5" height="7.3" fill-opacity="0.50"/><rect x="732.2" y="819.0" width="7.5" height="7.3" fill-opacity="0.19"/><rect x="653.0" y="826.0" width="7.5" height="7.3" fill-opacity="0.06"/><rect x="660.2" y="826.0" width="7.5" height="7.3" fill-opacity="0.67"/><rect x="667.4" y="826.0" width="7.5" height="7.3" fill-opacity="1.00"/><rect x="674.6" y="826.0" width="7.5" height="7.3" fill-opacity="1.00"/><rect x="681.8" y="826.0" width="7.5" height="7.3" fill-opacity="1.00"/><rect x="689.0" y="826.0" width="7.5" height="7.3" fill-opacity="1.00"/><rect x="696.2" y="826.0" width="7.5" height="7.3" fill-opacity="1.00"/><rect x="703.4" y="826.0" width="7.5" height="7.3" fill-opacity="1.00"/><rect x="710.6" y="826.0" width="7.5" height="7.3" fill-opacity="1.00"/><rect x="717.8" y="826.0" width="7.5" height="7.3" fill-opacity="0.97"/><rect x="725.0" y="826.0" width="7.5" height="7.3" fill-opacity="0.39"/><rect x="667.4" y="833.0" width="7.5" height="7.3" fill-opacity="0.36"/><rect x="674.6" y="833.0" width="7.5" height="7.3" fill-opacity="0.97"/><rect x="681.8" y="833.0" width="7.5" height="7.3" fill-opacity="1.00"/><rect x="689.0" y="833.0" width="7.5" height="7.3" fill-opacity="1.00"/><rect x="696.2" y="833.0" width="7.5" height="7.3" fill-opacity="1.00"/><rect x="703.4" y="833.0" width="7.5" height="7.3" fill-opacity="1.00"/><rect x="710.6" y="833.0" width="7.5" height="7.3" fill-opacity="0.83"/><rect x="717.8" y="833.0" width="7.5" height="7.3" fill-opacity="0.14"/><rect x="667.4" y="840.0" width="7.5" height="7.3" fill-opacity="0.06"/><rect x="674.6" y="840.0" width="7.5" height="7.3" fill-opacity="0.97"/><rect x="681.8" y="840.0" width="7.5" height="7.3" fill-opacity="1.00"/><rect x="689.0" y="840.0" width="7.5" height="7.3" fill-opacity="1.00"/><rect x="696.2" y="840.0" width="7.5" height="7.3" fill-opacity="1.00"/><rect x="703.4" y="840.0" width="7.5" height="7.3" fill-opacity="1.00"/><rect x="710.6" y="840.0" width="7.5" height="7.3" fill-opacity="0.67"/><rect x="667.4" y="847.0" width="7.5" height="7.3" fill-opacity="0.31"/><rect x="674.6" y="847.0" width="7.5" height="7.3" fill-opacity="1.00"/><rect x="681.8" y="847.0" width="7.5" height="7.3" fill-opacity="0.97"/><rect x="689.0" y="847.0" width="7.5" height="7.3" fill-opacity="0.61"/><rect x="696.2" y="847.0" width="7.5" height="7.3" fill-opacity="0.75"/><rect x="703.4" y="847.0" width="7.5" height="7.3" fill-opacity="1.00"/><rect x="710.6" y="847.0" width="7.5" height="7.3" fill-opacity="0.94"/><rect x="667.4" y="854.0" width="7.5" height="7.3" fill-opacity="0.56"/><rect x="674.6" y="854.0" width="7.5" height="7.3" fill-opacity="0.58"/><rect x="681.8" y="854.0" width="7.5" height="7.3" fill-opacity="0.11"/><rect x="703.4" y="854.0" width="7.5" height="7.3" fill-opacity="0.31"/><rect x="710.6" y="854.0" width="7.5" height="7.3" fill-opacity="0.83"/><rect x="717.8" y="854.0" width="7.5" height="7.3" fill-opacity="0.25"/><rect x="667.4" y="861.0" width="7.5" height="7.3" fill-opacity="0.06"/><rect x="717.8" y="861.0" width="7.5" height="7.3" fill-opacity="0.08"/><rect x="595.4" y="721.0" width="7.5" height="7.3" fill-opacity="0.08"/><rect x="588.2" y="728.0" width="7.5" height="7.3" fill-opacity="0.25"/><rect x="595.4" y="728.0" width="7.5" height="7.3" fill-opacity="0.67"/><rect x="588.2" y="735.0" width="7.5" height="7.3" fill-opacity="0.75"/><rect x="595.4" y="735.0" width="7.5" height="7.3" fill-opacity="1.00"/><rect x="602.6" y="735.0" width="7.5" height="7.3" fill-opacity="0.17"/><rect x="573.8" y="742.0" width="7.5" height="7.3" fill-opacity="0.06"/><rect x="581.0" y="742.0" width="7.5" height="7.3" fill-opacity="0.33"/><rect x="588.2" y="742.0" width="7.5" height="7.3" fill-opacity="1.00"/><rect x="595.4" y="742.0" width="7.5" height="7.3" fill-opacity="1.00"/><rect x="602.6" y="742.0" width="7.5" height="7.3" fill-opacity="0.69"/><rect x="609.8" y="742.0" width="7.5" height="7.3" fill-opacity="0.11"/><rect x="552.2" y="749.0" width="7.5" height="7.3" fill-opacity="0.14"/><rect x="559.4" y="749.0" width="7.5" height="7.3" fill-opacity="0.89"/><rect x="566.6" y="749.0" width="7.5" height="7.3" fill-opacity="1.00"/><rect x="573.8" y="749.0" width="7.5" height="7.3" fill-opacity="1.00"/><rect x="581.0" y="749.0" width="7.5" height="7.3" fill-opacity="1.00"/><rect x="588.2" y="749.0" width="7.5" height="7.3" fill-opacity="1.00"/><rect x="595.4" y="749.0" width="7.5" height="7.3" fill-opacity="1.00"/><rect x="602.6" y="749.0" width="7.5" height="7.3" fill-opacity="1.00"/><rect x="609.8" y="749.0" width="7.5" height="7.3" fill-opacity="1.00"/><rect x="617.0" y="749.0" width="7.5" height="7.3" fill-opacity="1.00"/><rect x="624.2" y="749.0" width="7.5" height="7.3" fill-opacity="1.00"/><rect x="631.4" y="749.0" width="7.5" height="7.3" fill-opacity="0.44"/><rect x="559.4" y="756.0" width="7.5" height="7.3" fill-opacity="0.08"/><rect x="566.6" y="756.0" width="7.5" height="7.3" fill-opacity="0.69"/><rect x="573.8" y="756.0" width="7.5" height="7.3" fill-opacity="1.00"/><rect x="581.0" y="756.0" width="7.5" height="7.3" fill-opacity="1.00"/><rect x="588.2" y="756.0" width="7.5" height="7.3" fill-opacity="1.00"/><rect x="595.4" y="756.0" width="7.5" height="7.3" fill-opacity="1.00"/><rect x="602.6" y="756.0" width="7.5" height="7.3" fill-opacity="1.00"/><rect x="609.8" y="756.0" width="7.5" height="7.3" fill-opacity="1.00"/><rect x="617.0" y="756.0" width="7.5" height="7.3" fill-opacity="0.92"/><rect x="624.2" y="756.0" width="7.5" height="7.3" fill-opacity="0.28"/><rect x="573.8" y="763.0" width="7.5" height="7.3" fill-opacity="0.61"/><rect x="581.0" y="763.0" width="7.5" height="7.3" fill-opacity="1.00"/><rect x="588.2" y="763.0" width="7.5" height="7.3" fill-opacity="1.00"/><rect x="595.4" y="763.0" width="7.5" height="7.3" fill-opacity="1.00"/><rect x="602.6" y="763.0" width="7.5" height="7.3" fill-opacity="1.00"/><rect x="609.8" y="763.0" width="7.5" height="7.3" fill-opacity="0.94"/><rect x="617.0" y="763.0" width="7.5" height="7.3" fill-opacity="0.08"/><rect x="573.8" y="770.0" width="7.5" height="7.3" fill-opacity="0.75"/><rect x="581.0" y="770.0" width="7.5" height="7.3" fill-opacity="1.00"/><rect x="588.2" y="770.0" width="7.5" height="7.3" fill-opacity="1.00"/><rect x="595.4" y="770.0" width="7.5" height="7.3" fill-opacity="1.00"/><rect x="602.6" y="770.0" width="7.5" height="7.3" fill-opacity="1.00"/><rect x="609.8" y="770.0" width="7.5" height="7.3" fill-opacity="1.00"/><rect x="617.0" y="770.0" width="7.5" height="7.3" fill-opacity="0.17"/><rect x="566.6" y="777.0" width="7.5" height="7.3" fill-opacity="0.06"/><rect x="573.8" y="777.0" width="7.5" height="7.3" fill-opacity="0.97"/><rect x="581.0" y="777.0" width="7.5" height="7.3" fill-opacity="0.89"/><rect x="588.2" y="777.0" width="7.5" height="7.3" fill-opacity="0.42"/><rect x="595.4" y="777.0" width="7.5" height="7.3" fill-opacity="0.19"/><rect x="602.6" y="777.0" width="7.5" height="7.3" fill-opacity="0.67"/><rect x="609.8" y="777.0" width="7.5" height="7.3" fill-opacity="1.00"/><rect x="617.0" y="777.0" width="7.5" height="7.3" fill-opacity="0.44"/><rect x="566.6" y="784.0" width="7.5" height="7.3" fill-opacity="0.19"/><rect x="573.8" y="784.0" width="7.5" height="7.3" fill-opacity="0.42"/><rect x="581.0" y="784.0" width="7.5" height="7.3" fill-opacity="0.03"/><rect x="609.8" y="784.0" width="7.5" height="7.3" fill-opacity="0.17"/><rect x="617.0" y="784.0" width="7.5" height="7.3" fill-opacity="0.50"/><rect x="559.4" y="623.0" width="7.5" height="7.3" fill-opacity="0.17"/><rect x="552.2" y="630.0" width="7.5" height="7.3" fill-opacity="0.33"/><rect x="559.4" y="630.0" width="7.5" height="7.3" fill-opacity="0.75"/><rect x="552.2" y="637.0" width="7.5" height="7.3" fill-opacity="0.83"/><rect x="559.4" y="637.0" width="7.5" height="7.3" fill-opacity="1.00"/><rect x="566.6" y="637.0" width="7.5" height="7.3" fill-opacity="0.33"/><rect x="516.2" y="644.0" width="7.5" height="7.3" fill-opacity="0.03"/><rect x="523.4" y="644.0" width="7.5" height="7.3" fill-opacity="0.17"/><rect x="530.6" y="644.0" width="7.5" height="7.3" fill-opacity="0.17"/><rect x="537.8" y="644.0" width="7.5" height="7.3" fill-opacity="0.28"/><rect x="545.0" y="644.0" width="7.5" height="7.3" fill-opacity="0.50"/><rect x="552.2" y="644.0" width="7.5" height="7.3" fill-opacity="1.00"/><rect x="559.4" y="644.0" width="7.5" height="7.3" fill-opacity="1.00"/><rect x="566.6" y="644.0" width="7.5" height="7.3" fill-opacity="0.83"/><rect x="573.8" y="644.0" width="7.5" height="7.3" fill-opacity="0.33"/><rect x="581.0" y="644.0" width="7.5" height="7.3" fill-opacity="0.19"/><rect x="588.2" y="644.0" width="7.5" height="7.3" fill-opacity="0.17"/><rect x="595.4" y="644.0" width="7.5" height="7.3" fill-opacity="0.11"/><rect x="516.2" y="651.0" width="7.5" height="7.3" fill-opacity="0.11"/><rect x="523.4" y="651.0" width="7.5" height="7.3" fill-opacity="0.78"/><rect x="530.6" y="651.0" width="7.5" height="7.3" fill-opacity="1.00"/><rect x="537.8" y="651.0" width="7.5" height="7.3" fill-opacity="1.00"/><rect x="545.0" y="651.0" width="7.5" height="7.3" fill-opacity="1.00"/><rect x="552.2" y="651.0" width="7.5" height="7.3" fill-opacity="1.00"/><rect x="559.4" y="651.0" width="7.5" height="7.3" fill-opacity="1.00"/><rect x="566.6" y="651.0" width="7.5" height="7.3" fill-opacity="1.00"/><rect x="573.8" y="651.0" width="7.5" height="7.3" fill-opacity="1.00"/><rect x="581.0" y="651.0" width="7.5" height="7.3" fill-opacity="1.00"/><rect x="588.2" y="651.0" width="7.5" height="7.3" fill-opacity="0.97"/><rect x="595.4" y="651.0" width="7.5" height="7.3" fill-opacity="0.39"/><rect x="530.6" y="658.0" width="7.5" height="7.3" fill-opacity="0.50"/><rect x="537.8" y="658.0" width="7.5" height="7.3" fill-opacity="0.97"/><rect x="545.0" y="658.0" width="7.5" height="7.3" fill-opacity="1.00"/><rect x="552.2" y="658.0" width="7.5" height="7.3" fill-opacity="1.00"/><rect x="559.4" y="658.0" width="7.5" height="7.3" fill-opacity="1.00"/><rect x="566.6" y="658.0" width="7.5" height="7.3" fill-opacity="1.00"/><rect x="573.8" y="658.0" width="7.5" height="7.3" fill-opacity="1.00"/><rect x="581.0" y="658.0" width="7.5" height="7.3" fill-opacity="0.81"/><rect x="588.2" y="658.0" width="7.5" height="7.3" fill-opacity="0.14"/><rect x="537.8" y="665.0" width="7.5" height="7.3" fill-opacity="0.56"/><rect x="545.0" y="665.0" width="7.5" height="7.3" fill-opacity="1.00"/><rect x="552.2" y="665.0" width="7.5" height="7.3" fill-opacity="1.00"/><rect x="559.4" y="665.0" width="7.5" height="7.3" fill-opacity="1.00"/><rect x="566.6" y="665.0" width="7.5" height="7.3" fill-opacity="1.00"/><rect x="573.8" y="665.0" width="7.5" height="7.3" fill-opacity="0.97"/><rect x="581.0" y="665.0" width="7.5" height="7.3" fill-opacity="0.03"/><rect x="537.8" y="672.0" width="7.5" height="7.3" fill-opacity="0.78"/><rect x="545.0" y="672.0" width="7.5" height="7.3" fill-opacity="1.00"/><rect x="552.2" y="672.0" width="7.5" height="7.3" fill-opacity="1.00"/><rect x="559.4" y="672.0" width="7.5" height="7.3" fill-opacity="0.97"/><rect x="566.6" y="672.0" width="7.5" height="7.3" fill-opacity="1.00"/><rect x="573.8" y="672.0" width="7.5" height="7.3" fill-opacity="1.00"/><rect x="581.0" y="672.0" width="7.5" height="7.3" fill-opacity="0.25"/><rect x="530.6" y="679.0" width="7.5" height="7.3" fill-opacity="0.08"/><rect x="537.8" y="679.0" width="7.5" height="7.3" fill-opacity="1.00"/><rect x="545.0" y="679.0" width="7.5" height="7.3" fill-opacity="0.75"/><rect x="552.2" y="679.0" width="7.5" height="7.3" fill-opacity="0.25"/><rect x="559.4" y="679.0" width="7.5" height="7.3" fill-opacity="0.06"/><rect x="566.6" y="679.0" width="7.5" height="7.3" fill-opacity="0.50"/><rect x="573.8" y="679.0" width="7.5" height="7.3" fill-opacity="0.94"/><rect x="581.0" y="679.0" width="7.5" height="7.3" fill-opacity="0.53"/><rect x="530.6" y="686.0" width="7.5" height="7.3" fill-opacity="0.17"/><rect x="537.8" y="686.0" width="7.5" height="7.3" fill-opacity="0.25"/><rect x="573.8" y="686.0" width="7.5" height="7.3" fill-opacity="0.06"/><rect x="581.0" y="686.0" width="7.5" height="7.3" fill-opacity="0.36"/><rect x="588.2" y="525.0" width="7.5" height="7.3" fill-opacity="0.03"/><rect x="595.4" y="525.0" width="7.5" height="7.3" fill-opacity="0.25"/><rect x="588.2" y="532.0" width="7.5" height="7.3" fill-opacity="0.42"/><rect x="595.4" y="532.0" width="7.5" height="7.3" fill-opacity="0.83"/><rect x="581.0" y="539.0" width="7.5" height="7.3" fill-opacity="0.03"/><rect x="588.2" y="539.0" width="7.5" height="7.3" fill-opacity="0.89"/><rect x="595.4" y="539.0" width="7.5" height="7.3" fill-opacity="1.00"/><rect x="602.6" y="539.0" width="7.5" height="7.3" fill-opacity="0.33"/><rect x="552.2" y="546.0" width="7.5" height="7.3" fill-opacity="0.19"/><rect x="559.4" y="546.0" width="7.5" height="7.3" fill-opacity="0.33"/><rect x="566.6" y="546.0" width="7.5" height="7.3" fill-opacity="0.36"/><rect x="573.8" y="546.0" width="7.5" height="7.3" fill-opacity="0.50"/><rect x="581.0" y="546.0" width="7.5" height="7.3" fill-opacity="0.64"/><rect x="588.2" y="546.0" width="7.5" height="7.3" fill-opacity="1.00"/><rect x="595.4" y="546.0" width="7.5" height="7.3" fill-opacity="1.00"/><rect x="602.6" y="546.0" width="7.5" height="7.3" fill-opacity="0.86"/><rect x="609.8" y="546.0" width="7.5" height="7.3" fill-opacity="0.50"/><rect x="617.0" y="546.0" width="7.5" height="7.3" fill-opacity="0.44"/><rect x="624.2" y="546.0" width="7.5" height="7.3" fill-opacity="0.33"/><rect x="631.4" y="546.0" width="7.5" height="7.3" fill-opacity="0.31"/><rect x="638.6" y="546.0" width="7.5" height="7.3" fill-opacity="0.03"/><rect x="552.2" y="553.0" width="7.5" height="7.3" fill-opacity="0.03"/><rect x="559.4" y="553.0" width="7.5" height="7.3" fill-opacity="0.58"/><rect x="566.6" y="553.0" width="7.5" height="7.3" fill-opacity="1.00"/><rect x="573.8" y="553.0" width="7.5" height="7.3" fill-opacity="1.00"/><rect x="581.0" y="553.0" width="7.5" height="7.3" fill-opacity="1.00"/><rect x="588.2" y="553.0" width="7.5" height="7.3" fill-opacity="1.00"/><rect x="595.4" y="553.0" width="7.5" height="7.3" fill-opacity="1.00"/><rect x="602.6" y="553.0" width="7.5" height="7.3" fill-opacity="1.00"/><rect x="609.8" y="553.0" width="7.5" height="7.3" fill-opacity="1.00"/><rect x="617.0" y="553.0" width="7.5" height="7.3" fill-opacity="1.00"/><rect x="624.2" y="553.0" width="7.5" height="7.3" fill-opacity="0.86"/><rect x="631.4" y="553.0" width="7.5" height="7.3" fill-opacity="0.19"/><rect x="566.6" y="560.0" width="7.5" height="7.3" fill-opacity="0.31"/><rect x="573.8" y="560.0" width="7.5" height="7.3" fill-opacity="0.92"/><rect x="581.0" y="560.0" width="7.5" height="7.3" fill-opacity="1.00"/><rect x="588.2" y="560.0" width="7.5" height="7.3" fill-opacity="1.00"/><rect x="595.4" y="560.0" width="7.5" height="7.3" fill-opacity="1.00"/><rect x="602.6" y="560.0" width="7.5" height="7.3" fill-opacity="1.00"/><rect x="609.8" y="560.0" width="7.5" height="7.3" fill-opacity="1.00"/><rect x="617.0" y="560.0" width="7.5" height="7.3" fill-opacity="0.61"/><rect x="624.2" y="560.0" width="7.5" height="7.3" fill-opacity="0.03"/><rect x="573.8" y="567.0" width="7.5" height="7.3" fill-opacity="0.58"/><rect x="581.0" y="567.0" width="7.5" height="7.3" fill-opacity="1.00"/><rect x="588.2" y="567.0" width="7.5" height="7.3" fill-opacity="1.00"/><rect x="595.4" y="567.0" width="7.5" height="7.3" fill-opacity="1.00"/><rect x="602.6" y="567.0" width="7.5" height="7.3" fill-opacity="1.00"/><rect x="609.8" y="567.0" width="7.5" height="7.3" fill-opacity="0.97"/><rect x="617.0" y="567.0" width="7.5" height="7.3" fill-opacity="0.03"/><rect x="573.8" y="574.0" width="7.5" height="7.3" fill-opacity="0.86"/><rect x="581.0" y="574.0" width="7.5" height="7.3" fill-opacity="1.00"/><rect x="588.2" y="574.0" width="7.5" height="7.3" fill-opacity="0.94"/><rect x="595.4" y="574.0" width="7.5" height="7.3" fill-opacity="0.83"/><rect x="602.6" y="574.0" width="7.5" height="7.3" fill-opacity="1.00"/><rect x="609.8" y="574.0" width="7.5" height="7.3" fill-opacity="1.00"/><rect x="617.0" y="574.0" width="7.5" height="7.3" fill-opacity="0.28"/><rect x="566.6" y="581.0" width="7.5" height="7.3" fill-opacity="0.14"/><rect x="573.8" y="581.0" width="7.5" height="7.3" fill-opacity="0.94"/><rect x="581.0" y="581.0" width="7.5" height="7.3" fill-opacity="0.50"/><rect x="588.2" y="581.0" width="7.5" height="7.3" fill-opacity="0.06"/><rect x="602.6" y="581.0" width="7.5" height="7.3" fill-opacity="0.33"/><rect x="609.8" y="581.0" width="7.5" height="7.3" fill-opacity="0.83"/><rect x="617.0" y="581.0" width="7.5" height="7.3" fill-opacity="0.58"/><rect x="566.6" y="588.0" width="7.5" height="7.3" fill-opacity="0.11"/><rect x="573.8" y="588.0" width="7.5" height="7.3" fill-opacity="0.06"/><rect x="617.0" y="588.0" width="7.5" height="7.3" fill-opacity="0.22"/><rect x="689.0" y="455.0" width="7.5" height="7.3" fill-opacity="0.50"/><rect x="696.2" y="455.0" width="7.5" height="7.3" fill-opacity="0.17"/><rect x="681.8" y="462.0" width="7.5" height="7.3" fill-opacity="0.06"/><rect x="689.0" y="462.0" width="7.5" height="7.3" fill-opacity="0.94"/><rect x="696.2" y="462.0" width="7.5" height="7.3" fill-opacity="0.67"/><rect x="681.8" y="469.0" width="7.5" height="7.3" fill-opacity="0.50"/><rect x="689.0" y="469.0" width="7.5" height="7.3" fill-opacity="1.00"/><rect x="696.2" y="469.0" width="7.5" height="7.3" fill-opacity="1.00"/><rect x="703.4" y="469.0" width="7.5" height="7.3" fill-opacity="0.17"/><rect x="653.0" y="476.0" width="7.5" height="7.3" fill-opacity="0.44"/><rect x="660.2" y="476.0" width="7.5" height="7.3" fill-opacity="0.75"/><rect x="667.4" y="476.0" width="7.5" height="7.3" fill-opacity="0.83"/><rect x="674.6" y="476.0" width="7.5" height="7.3" fill-opacity="0.83"/><rect x="681.8" y="476.0" width="7.5" height="7.3" fill-opacity="1.00"/><rect x="689.0" y="476.0" width="7.5" height="7.3" fill-opacity="1.00"/><rect x="696.2" y="476.0" width="7.5" height="7.3" fill-opacity="1.00"/><rect x="703.4" y="476.0" width="7.5" height="7.3" fill-opacity="0.94"/><rect x="710.6" y="476.0" width="7.5" height="7.3" fill-opacity="0.83"/><rect x="717.8" y="476.0" width="7.5" height="7.3" fill-opacity="0.83"/><rect x="725.0" y="476.0" width="7.5" height="7.3" fill-opacity="0.69"/><rect x="732.2" y="476.0" width="7.5" height="7.3" fill-opacity="0.19"/><rect x="660.2" y="483.0" width="7.5" height="7.3" fill-opacity="0.50"/><rect x="667.4" y="483.0" width="7.5" height="7.3" fill-opacity="0.97"/><rect x="674.6" y="483.0" width="7.5" height="7.3" fill-opacity="1.00"/><rect x="681.8" y="483.0" width="7.5" height="7.3" fill-opacity="1.00"/><rect x="689.0" y="483.0" width="7.5" height="7.3" fill-opacity="1.00"/><rect x="696.2" y="483.0" width="7.5" height="7.3" fill-opacity="1.00"/><rect x="703.4" y="483.0" width="7.5" height="7.3" fill-opacity="1.00"/><rect x="710.6" y="483.0" width="7.5" height="7.3" fill-opacity="1.00"/><rect x="717.8" y="483.0" width="7.5" height="7.3" fill-opacity="0.86"/><rect x="725.0" y="483.0" width="7.5" height="7.3" fill-opacity="0.22"/><rect x="667.4" y="490.0" width="7.5" height="7.3" fill-opacity="0.22"/><rect x="674.6" y="490.0" width="7.5" height="7.3" fill-opacity="0.94"/><rect x="681.8" y="490.0" width="7.5" height="7.3" fill-opacity="1.00"/><rect x="689.0" y="490.0" width="7.5" height="7.3" fill-opacity="1.00"/><rect x="696.2" y="490.0" width="7.5" height="7.3" fill-opacity="1.00"/><rect x="703.4" y="490.0" width="7.5" height="7.3" fill-opacity="1.00"/><rect x="710.6" y="490.0" width="7.5" height="7.3" fill-opacity="0.72"/><rect x="717.8" y="490.0" width="7.5" height="7.3" fill-opacity="0.06"/><rect x="667.4" y="497.0" width="7.5" height="7.3" fill-opacity="0.08"/><rect x="674.6" y="497.0" width="7.5" height="7.3" fill-opacity="1.00"/><rect x="681.8" y="497.0" width="7.5" height="7.3" fill-opacity="1.00"/><rect x="689.0" y="497.0" width="7.5" height="7.3" fill-opacity="1.00"/><rect x="696.2" y="497.0" width="7.5" height="7.3" fill-opacity="1.00"/><rect x="703.4" y="497.0" width="7.5" height="7.3" fill-opacity="1.00"/><rect x="710.6" y="497.0" width="7.5" height="7.3" fill-opacity="0.72"/><rect x="667.4" y="504.0" width="7.5" height="7.3" fill-opacity="0.36"/><rect x="674.6" y="504.0" width="7.5" height="7.3" fill-opacity="1.00"/><rect x="681.8" y="504.0" width="7.5" height="7.3" fill-opacity="0.89"/><rect x="689.0" y="504.0" width="7.5" height="7.3" fill-opacity="0.44"/><rect x="696.2" y="504.0" width="7.5" height="7.3" fill-opacity="0.58"/><rect x="703.4" y="504.0" width="7.5" height="7.3" fill-opacity="0.97"/><rect x="710.6" y="504.0" width="7.5" height="7.3" fill-opacity="0.97"/><rect x="717.8" y="504.0" width="7.5" height="7.3" fill-opacity="0.03"/><rect x="667.4" y="511.0" width="7.5" height="7.3" fill-opacity="0.56"/><rect x="674.6" y="511.0" width="7.5" height="7.3" fill-opacity="0.42"/><rect x="681.8" y="511.0" width="7.5" height="7.3" fill-opacity="0.03"/><rect x="703.4" y="511.0" width="7.5" height="7.3" fill-opacity="0.11"/><rect x="710.6" y="511.0" width="7.5" height="7.3" fill-opacity="0.58"/><rect x="717.8" y="511.0" width="7.5" height="7.3" fill-opacity="0.28"/><rect x="717.8" y="518.0" width="7.5" height="7.3" fill-opacity="0.03"/></g>
<g stroke="#7a7b7c" stroke-width="2"><line x1="208" y1="866.2" x2="1444" y2="866.2"/><line x1="208" y1="764.3" x2="1444" y2="764.3"/><line x1="208" y1="662.5" x2="1444" y2="662.5"/><line x1="208" y1="560.7" x2="1444" y2="560.7"/><line x1="208" y1="458.8" x2="1444" y2="458.8"/></g>
<line x1="208" y1="357" x2="1444" y2="357" stroke="#5f6062" stroke-width="2"/>
<line x1="1444" y1="357" x2="1444" y2="980.5" stroke="#6a6b6c" stroke-width="2"/>
<line x1="221" y1="357" x2="221" y2="980.5" stroke="#6f7072" stroke-width="2"/>
<line x1="208" y1="968" x2="1444" y2="968" stroke="#5f6062" stroke-width="2"/>
<g stroke="#6f7072" stroke-width="1.6"><line x1="221.0" y1="968" x2="221.0" y2="980.5"/><line x1="322.9" y1="968" x2="322.9" y2="980.5"/><line x1="424.8" y1="968" x2="424.8" y2="980.5"/><line x1="526.8" y1="968" x2="526.8" y2="980.5"/><line x1="628.7" y1="968" x2="628.7" y2="980.5"/><line x1="730.6" y1="968" x2="730.6" y2="980.5"/><line x1="832.5" y1="968" x2="832.5" y2="980.5"/><line x1="934.4" y1="968" x2="934.4" y2="980.5"/><line x1="1036.3" y1="968" x2="1036.3" y2="980.5"/><line x1="1138.2" y1="968" x2="1138.2" y2="980.5"/><line x1="1240.2" y1="968" x2="1240.2" y2="980.5"/><line x1="1342.1" y1="968" x2="1342.1" y2="980.5"/><line x1="1444.0" y1="968" x2="1444.0" y2="980.5"/></g>
<g transform="translate(411.56,873.68) scale(0.69,0.605)">
<text x="1135.5" y="100.5" font-family="'Liberation Serif'" font-weight="bold" font-size="78" fill="#1b8fd6" textLength="181" lengthAdjust="spacingAndGlyphs">VMB</text>
<text x="1137" y="130.5" font-family="'Liberation Serif'" font-size="20.5" fill="#1b8fd6" textLength="320" lengthAdjust="spacingAndGlyphs">Verband der Milcherzeuger Bayern e.V.</text>
<path d="M1352,50.2 C1380,46 1412,46.5 1432,54 C1450,61 1457,69 1456,77 C1455,91 1430,102.5 1390,103 C1362,103.5 1338,96 1321,85 C1340,93 1362,97.5 1388,97.5 C1405,97.5 1416,92 1419,82 C1421,72 1417,63 1406,58 C1392,52.5 1368,50.5 1352,50.2 Z" fill="#1b8fd6"/>
<ellipse cx="1380.5" cy="73.6" rx="37.5" ry="18.4" fill="none" stroke="#1b8fd6" stroke-width="2.3"/>
<path d="M1400,50.5 C1418,53 1432,60 1438,65.5" fill="none" stroke="#c9cad7" stroke-width="1.6"/>
<path d="M1379.5,53.5 C1379,58 1378.5,63 1378,66.5 C1376,70.5 1372,72.5 1364,74.5 C1368,71 1372,69.5 1375.5,66.5 C1376.5,62 1377,57 1377.5,53.5 Z" fill="#1b8fd6" stroke="#1b8fd6" stroke-width="1"/>
<path d="M1385,67.5 C1391,68 1397,70.5 1401,74 C1395,74.5 1389,71.5 1385,67.5 Z" fill="#1b8fd6" stroke="#1b8fd6" stroke-width="1.2"/>
<path d="M1374,40 C1380,44 1388,43 1389.5,35.5 C1389,34 1388,33 1386.5,32.5 C1388,38 1383,42 1374,40 Z" fill="#1b8fd6" stroke="#1b8fd6" stroke-width="0.8"/>
</g>
<path d="M272.0,590.5 C288.9,609.1 339.9,708.2 373.9,702.2 C407.8,696.3 441.8,582.4 475.8,554.8 C509.8,527.1 543.7,554.5 577.7,536.3 C611.7,518.2 645.7,443.0 679.6,445.8 C713.6,448.6 747.6,528.4 781.5,553.2 C815.5,578.0 849.5,581.6 883.5,594.6 C917.4,607.6 951.4,618.0 985.4,631.2 C1019.3,644.5 1053.3,674.7 1087.3,674.0 C1121.3,673.3 1155.2,630.5 1189.2,627.1 C1223.2,623.6 1257.2,659.3 1291.1,653.2 C1325.1,647.2 1376.1,601.0 1393.0,590.6" stroke="#000" stroke-width="11.5" fill="none" stroke-linecap="round" filter="url(#sh)" opacity="0.42"/>
<g fill="none" stroke-width="11.5" stroke-linecap="round" stroke-linejoin="round"><path d="M272.0,633.5 C288.9,649.7 339.9,743.7 373.9,731.0 C407.8,718.4 441.8,590.9 475.8,557.6 C509.8,524.3 543.7,551.0 577.7,531.1 C611.7,511.3 645.7,440.6 679.6,438.5 C713.6,436.3 747.6,498.9 781.5,518.4 C815.5,537.9 849.5,539.5 883.5,555.3 C917.4,571.1 951.4,595.6 985.4,613.3 C1019.3,631.1 1053.3,660.1 1087.3,661.7 C1121.3,663.3 1155.2,622.4 1189.2,622.8 C1223.2,623.1 1257.2,664.8 1291.1,663.8 C1325.1,662.8 1376.1,624.5 1393.0,616.7" stroke="#ffc000"/><path d="M272.0,601.9 C288.9,615.1 339.9,687.9 373.9,681.3 C407.8,674.8 441.8,580.9 475.8,562.7 C509.8,544.5 543.7,582.7 577.7,572.2 C611.7,561.7 645.7,492.1 679.6,499.6 C713.6,507.1 747.6,589.9 781.5,617.1 C815.5,644.3 849.5,648.3 883.5,662.8 C917.4,677.3 951.4,689.1 985.4,704.0 C1019.3,719.0 1053.3,749.6 1087.3,752.3 C1121.3,755.0 1155.2,720.0 1189.2,720.1 C1223.2,720.3 1257.2,760.1 1291.1,753.0 C1325.1,746.0 1376.1,690.5 1393.0,678.0" stroke="#ff6600"/><path d="M272.0,609.5 C288.9,626.8 339.9,724.8 373.9,712.8 C407.8,700.9 441.8,569.1 475.8,537.9 C509.8,506.6 543.7,538.8 577.7,525.3 C611.7,511.8 645.7,451.2 679.6,456.8 C713.6,462.4 747.6,533.9 781.5,558.8 C815.5,583.8 849.5,596.2 883.5,606.7 C917.4,617.2 951.4,611.2 985.4,621.8 C1019.3,632.3 1053.3,667.7 1087.3,670.1 C1121.3,672.6 1155.2,638.7 1189.2,636.4 C1223.2,634.1 1257.2,660.2 1291.1,656.4 C1325.1,652.5 1376.1,620.5 1393.0,613.3" stroke="#00b050"/><path d="M272.0,590.5 C288.9,609.1 339.9,708.2 373.9,702.2 C407.8,696.3 441.8,582.4 475.8,554.8 C509.8,527.1 543.7,554.5 577.7,536.3 C611.7,518.2 645.7,443.0 679.6,445.8 C713.6,448.6 747.6,528.4 781.5,553.2 C815.5,578.0 849.5,581.6 883.5,594.6 C917.4,607.6 951.4,618.0 985.4,631.2 C1019.3,644.5 1053.3,674.7 1087.3,674.0 C1121.3,673.3 1155.2,630.5 1189.2,627.1 C1223.2,623.6 1257.2,659.3 1291.1,653.2 C1325.1,647.2 1376.1,601.0 1393.0,590.6" stroke="#0070c0"/></g>
<circle cx="271.8" cy="568" r="10.1" fill="#ff0000" stroke="#80e8d8" stroke-width="1.2"/>
<g font-family="'Liberation Sans'" font-weight="bold" font-size="40" fill="#000" stroke="#000" stroke-width="1.1">
<g transform="translate(185,0) scale(1.05,1) translate(-185,0)"><text x="185" y="981.5" text-anchor="end">900</text><text x="185" y="879.7" text-anchor="end">1.000</text><text x="185" y="777.8" text-anchor="end">1.100</text><text x="185" y="676.0" text-anchor="end">1.200</text><text x="185" y="574.2" text-anchor="end">1.300</text><text x="185" y="472.3" text-anchor="end">1.400</text><text x="185" y="370.5" text-anchor="end">1.500</text></g>
<text x="272.0" y="1031" text-anchor="middle" transform="translate(272.0,0) scale(0.94,1) translate(-272.0,0)">Jan</text><text x="373.9" y="1031" text-anchor="middle" transform="translate(373.9,0) scale(0.94,1) translate(-373.9,0)">Feb</text><text x="475.8" y="1031" text-anchor="middle" transform="translate(475.8,0) scale(0.94,1) translate(-475.8,0)">Mrz</text><text x="577.7" y="1031" text-anchor="middle" transform="translate(577.7,0) scale(0.94,1) translate(-577.7,0)">Apr</text><text x="679.6" y="1031" text-anchor="middle" transform="translate(679.6,0) scale(0.94,1) translate(-679.6,0)">Mai</text><text x="781.5" y="1031" text-anchor="middle" transform="translate(781.5,0) scale(0.94,1) translate(-781.5,0)">Jun</text><text x="883.5" y="1031" text-anchor="middle" transform="translate(883.5,0) scale(0.94,1) translate(-883.5,0)">Jul</text><text x="985.4" y="1031" text-anchor="middle" transform="translate(985.4,0) scale(0.94,1) translate(-985.4,0)">Aug</text><text x="1087.3" y="1031" text-anchor="middle" transform="translate(1087.3,0) scale(0.94,1) translate(-1087.3,0)">Sep</text><text x="1189.2" y="1031" text-anchor="middle" transform="translate(1189.2,0) scale(0.94,1) translate(-1189.2,0)">Okt</text><text x="1291.1" y="1031" text-anchor="middle" transform="translate(1291.1,0) scale(0.94,1) translate(-1291.1,0)">Nov</text><text x="1393.0" y="1031" text-anchor="middle" transform="translate(1393.0,0) scale(0.94,1) translate(-1393.0,0)">Dez</text></g>
<text x="84.5" y="1092" font-family="'Liberation Sans'" font-weight="bold" font-size="29" fill="#000" textLength="226" lengthAdjust="spacingAndGlyphs">Quelle: Eurostat</text>
</svg>
</body></html>
